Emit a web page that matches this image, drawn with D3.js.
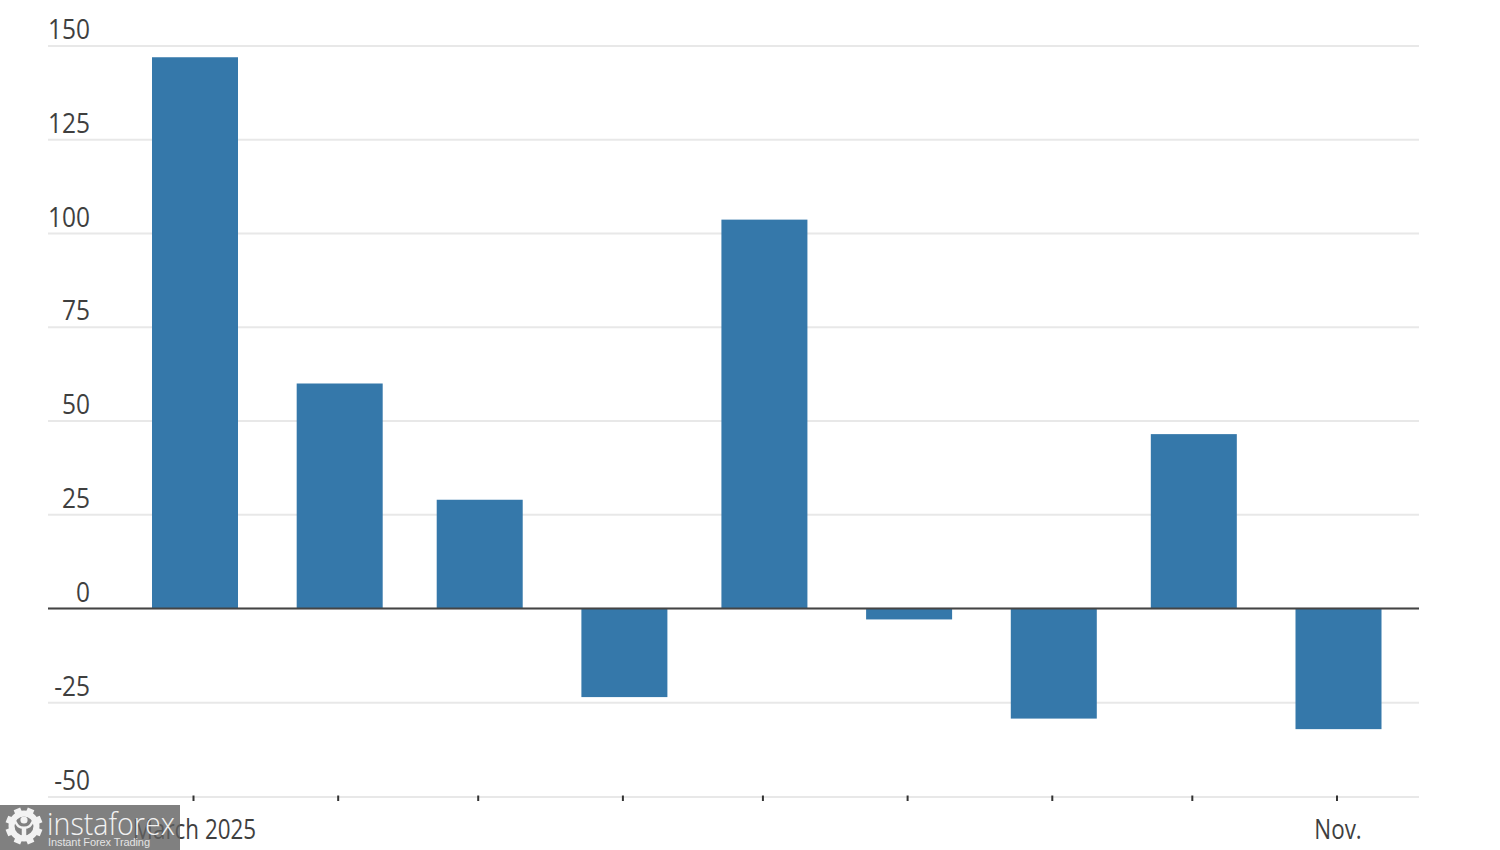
<!DOCTYPE html>
<html><head><meta charset="utf-8">
<script src="https://cdn.jsdelivr.net/npm/d3@7"></script>
<style>html,body{margin:0;padding:0;background:#fff;overflow:hidden}svg{display:block}
text{font-family:"Open Sans",sans-serif}</style></head><body>
<svg id="c" width="1500" height="850"></svg>
<script>
const months = ["2025-03-01","2025-04-01","2025-05-01","2025-06-01","2025-07-01","2025-08-01","2025-09-01","2025-10-01","2025-11-01"];
const values = [147, 60, 29, -23.5, 103.7, -2.9, -29.2, 46.5, -32];
const yTicks = [150,125,100,75,50,25,0,-25,-50];
const xLabels = {"2025-03-01":"March 2025","2025-11-01":"Nov."};
const gearTeeth = [0,45,90,135,180,225,270,315];

const svg = d3.select("#c");
const dates = months.map(d=>new Date(d+"T00:00:00Z"));
const x = d3.scaleUtc().domain([dates[0],dates[dates.length-1]]).range([193.5,1337]);
const y = d3.scaleLinear().domain([-50,0,150]).range([797,608.5,46]);
const barW = 86, barShift = 1.5, left = 48, right = 1419;

// gridlines
const gy = svg.append("g").attr("transform",`translate(${left},0)`)
  .call(d3.axisLeft(y).offset(0).tickValues(yTicks).tickSize(-(right-left)).tickFormat(""));
gy.select(".domain").remove();
gy.selectAll("line").attr("stroke","#e8e8e8").attr("stroke-width",2);

// bars
svg.append("g").selectAll("rect").data(values).join("rect")
  .attr("x",(d,i)=>x(dates[i])-barW/2+barShift)
  .attr("width",barW)
  .attr("y",d=>y(Math.max(d,0)))
  .attr("height",d=>Math.abs(y(d)-y(0)))
  .attr("fill","#3578aa");

// zero line
svg.append("line").attr("x1",left).attr("x2",right).attr("y1",y(0)).attr("y2",y(0))
  .attr("stroke","#444").attr("stroke-width",2);

// y labels
svg.append("g").selectAll("text").data(yTicks).join("text")
  .attr("text-anchor","end")
  .attr("transform",d=>`translate(90,${y(d)-7}) scale(0.89,1)`)
  .attr("font-size",27.5).attr("fill","#3f3f3f")
  .text(d=>d);

// x axis
const gx = svg.append("g").attr("transform","translate(0,795.5)")
  .call(d3.axisBottom(x).offset(0).tickValues(dates).tickSize(5.5).tickFormat(""));
gx.select(".domain").remove();
gx.selectAll("line").attr("stroke","#333").attr("stroke-width",2);

svg.append("g").selectAll("text").data(dates).join("text")
  .attr("text-anchor","middle")
  .attr("transform",d=>`translate(${x(d)+1},839) scale(0.83,1)`)
  .attr("font-size",27).attr("fill","#3f3f3f")
  .text((d,i)=>xLabels[months[i]]||"");

// watermark
const wm = svg.append("g");
wm.append("rect").attr("x",0).attr("y",805).attr("width",180).attr("height",45)
  .attr("fill","#606060").attr("fill-opacity",0.8);
const cx=24,cy=826,white="#f2f2f2";
wm.append("circle").attr("cx",cx).attr("cy",cy).attr("r",12.5).attr("fill","none")
  .attr("stroke",white).attr("stroke-width",6);
wm.append("g").selectAll("rect").data(gearTeeth).join("rect")
  .attr("x",cx-3.5).attr("y",cy-18.5).attr("width",7).attr("height",7).attr("fill",white)
  .attr("transform",d=>`rotate(${d+22.5},${cx},${cy})`);
wm.append("circle").attr("cx",cx).attr("cy",cy-6).attr("r",3.6).attr("fill",white);
wm.append("path").attr("d",d3.line().curve(d3.curveBasis)([[cx-9,cy-5],[cx-6,cy+1],[cx,cy+2],[cx+6,cy+1],[cx+9,cy-5]]))
  .attr("fill","none").attr("stroke",white).attr("stroke-width",2.5);
wm.append("line").attr("x1",cx).attr("x2",cx).attr("y1",cy+1).attr("y2",cy+15).attr("stroke",white).attr("stroke-width",4.5);
wm.append("text").attr("x",47).attr("y",835).attr("font-size",31).attr("fill",white)
  .attr("font-weight",300).attr("textLength",128).attr("lengthAdjust","spacingAndGlyphs").text("instaforex");
wm.append("text").attr("x",48).attr("y",845.5).attr("font-size",11).attr("fill","#e4e4e4")
  .style("font-family","'Liberation Sans',sans-serif").attr("textLength",102).text("Instant Forex Trading");
</script></body></html>
